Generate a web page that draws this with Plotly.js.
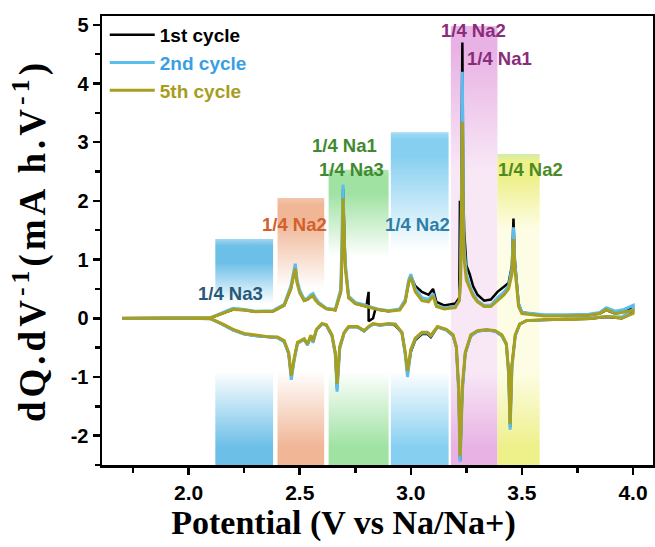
<!DOCTYPE html>
<html><head><meta charset="utf-8">
<script src="https://cdn.plot.ly/plotly-3.0.1.min.js"></script>
<style>html,body{margin:0;padding:0;background:#fff}#chart{width:655px;height:547px}
.ytitle{letter-spacing:4px}</style>
</head><body><div id="chart"></div>
<script>
// ---------- data ----------
const cycleNames = ['1st cycle', '2nd cycle', '5th cycle'];

// charge branch (positive dQ/dV), potential in V
const chargeV   = [1.70, 2.00, 2.10, 2.15, 2.20, 2.25, 2.30, 2.38, 2.43, 2.46, 2.472, 2.48, 2.488, 2.50, 2.52, 2.535, 2.55, 2.56, 2.57, 2.585, 2.62, 2.66, 2.685, 2.691, 2.695, 2.70, 2.705, 2.72, 2.75, 2.80, 2.81, 2.81, 2.83, 2.84, 2.85, 2.90, 2.95, 2.975, 2.99, 3.00, 3.01, 3.02, 3.05, 3.08, 3.10, 3.115, 3.15, 3.20, 3.218, 3.221, 3.224, 3.229, 3.232, 3.236, 3.24, 3.25, 3.265, 3.28, 3.30, 3.33, 3.36, 3.39, 3.42, 3.44, 3.455, 3.462, 3.468, 3.475, 3.485, 3.50, 3.60, 3.70, 3.80, 3.85, 3.88, 3.92, 3.96, 4.00];
const charge1st = [0, 0, 0.01, 0.08, 0.15, 0.14, 0.11, 0.12, 0.22, 0.5, 0.7, 0.88, 0.62, 0.45, 0.3, 0.32, 0.38, 0.4, 0.33, 0.25, 0.16, 0.14, 0.45, 1.2, 2.2, 1.3, 0.9, 0.35, 0.25, 0.2, 0.45, -0.05, 0.0, 0.15, 0.15, 0.12, 0.15, 0.3, 0.6, 0.72, 0.62, 0.55, 0.45, 0.4, 0.5, 0.28, 0.22, 0.25, 0.35, 2.0, 0.6, 2.8, 4.7, 2.2, 1.5, 0.9, 0.75, 0.55, 0.4, 0.3, 0.32, 0.45, 0.55, 0.6, 0.9, 1.7, 1.0, 0.7, 0.25, 0.1, 0.05, 0.04, 0.05, 0.08, 0.14, 0.08, 0.12, 0.2];
const charge2nd = [0, 0, 0.01, 0.09, 0.17, 0.15, 0.12, 0.13, 0.24, 0.55, 0.75, 0.93, 0.65, 0.48, 0.32, 0.34, 0.4, 0.42, 0.35, 0.27, 0.17, 0.15, 0.5, 1.3, 2.28, 1.35, 0.95, 0.38, 0.27, 0.22, 0.2, 0.2, 0.18, 0.17, 0.16, 0.13, 0.16, 0.32, 0.65, 0.75, 0.6, 0.5, 0.35, 0.32, 0.42, 0.22, 0.18, 0.2, 0.3, 0.5, 0.7, 2.5, 4.2, 1.9, 1.2, 0.75, 0.55, 0.42, 0.3, 0.22, 0.22, 0.35, 0.45, 0.55, 0.85, 1.55, 0.95, 0.65, 0.25, 0.1, 0.06, 0.06, 0.07, 0.1, 0.18, 0.12, 0.15, 0.22];
const charge5th = [0, 0, 0.01, 0.08, 0.15, 0.14, 0.11, 0.12, 0.22, 0.5, 0.68, 0.85, 0.6, 0.43, 0.3, 0.32, 0.36, 0.38, 0.31, 0.25, 0.16, 0.14, 0.45, 1.15, 2.05, 1.2, 0.85, 0.35, 0.25, 0.2, 0.19, 0.19, 0.17, 0.16, 0.15, 0.12, 0.14, 0.28, 0.6, 0.7, 0.55, 0.45, 0.3, 0.28, 0.38, 0.2, 0.16, 0.18, 0.3, 0.45, 0.6, 2.0, 3.35, 1.6, 1.0, 0.65, 0.5, 0.38, 0.28, 0.2, 0.2, 0.3, 0.4, 0.5, 0.75, 1.35, 0.85, 0.6, 0.2, 0.08, 0.04, 0.04, 0.05, 0.08, 0.15, 0.08, 0.1, 0.13];

// discharge branch (negative dQ/dV), from 4.0 V back to 1.7 V
const dischargeV   = [4.00, 3.95, 3.88, 3.80, 3.70, 3.60, 3.52, 3.49, 3.47, 3.455, 3.447, 3.44, 3.43, 3.41, 3.38, 3.34, 3.30, 3.27, 3.245, 3.232, 3.222, 3.215, 3.205, 3.19, 3.16, 3.12, 3.09, 3.075, 3.05, 3.02, 3.00, 2.985, 2.975, 2.96, 2.93, 2.90, 2.86, 2.83, 2.81, 2.79, 2.76, 2.72, 2.70, 2.68, 2.668, 2.66, 2.645, 2.62, 2.60, 2.575, 2.56, 2.55, 2.535, 2.52, 2.49, 2.475, 2.462, 2.45, 2.43, 2.40, 2.35, 2.30, 2.25, 2.20, 2.15, 2.10, 2.00, 1.70];
const discharge1st = [0.1, 0.0, 0.02, -0.01, -0.02, -0.02, -0.04, -0.1, -0.3, -0.8, -1.85, -0.9, -0.45, -0.3, -0.22, -0.2, -0.22, -0.3, -0.6, -1.2, -2.42, -1.2, -0.5, -0.3, -0.2, -0.15, -0.32, -0.27, -0.27, -0.37, -0.57, -0.95, -0.6, -0.25, -0.12, -0.1, -0.12, -0.1, -0.15, -0.22, -0.15, -0.15, -0.25, -0.5, -1.2, -0.6, -0.3, -0.12, -0.1, -0.2, -0.4, -0.3, -0.45, -0.36, -0.42, -0.7, -1.0, -0.6, -0.4, -0.33, -0.32, -0.3, -0.27, -0.2, -0.1, -0.01, 0, 0];
const discharge2nd = [0.15, 0.02, 0.03, 0.0, -0.01, -0.02, -0.04, -0.1, -0.3, -0.85, -1.9, -0.95, -0.45, -0.3, -0.22, -0.2, -0.22, -0.3, -0.6, -1.25, -2.45, -1.25, -0.5, -0.3, -0.2, -0.15, -0.3, -0.25, -0.25, -0.35, -0.55, -1.0, -0.62, -0.25, -0.1, -0.1, -0.12, -0.1, -0.15, -0.22, -0.15, -0.15, -0.25, -0.52, -1.25, -0.62, -0.3, -0.12, -0.1, -0.2, -0.42, -0.3, -0.46, -0.36, -0.43, -0.72, -1.05, -0.6, -0.4, -0.33, -0.32, -0.3, -0.27, -0.2, -0.1, -0.01, 0, 0];
const discharge5th = [0.08, 0.0, 0.03, -0.01, -0.02, -0.02, -0.04, -0.1, -0.28, -0.8, -1.8, -0.9, -0.43, -0.28, -0.21, -0.19, -0.21, -0.28, -0.58, -1.15, -2.35, -1.15, -0.48, -0.28, -0.19, -0.14, -0.29, -0.24, -0.24, -0.34, -0.53, -0.9, -0.58, -0.24, -0.1, -0.09, -0.11, -0.09, -0.14, -0.21, -0.14, -0.14, -0.24, -0.48, -1.12, -0.58, -0.28, -0.11, -0.09, -0.19, -0.39, -0.29, -0.44, -0.35, -0.41, -0.68, -0.98, -0.58, -0.38, -0.32, -0.31, -0.29, -0.26, -0.19, -0.09, -0.01, 0, 0];

// highlighted potential windows
const bandStart = [2.12, 2.40, 2.63, 2.91, 3.18, 3.39];
const bandEnd   = [2.38, 2.61, 2.90, 3.17, 3.39, 3.58];
const bandTop   = [1.35, 2.05, 2.53, 3.17, 4.98, 2.80];

// site labels
const labelText = ['1/4 Na3', '1/4 Na2', '1/4 Na1', '1/4 Na3', '1/4 Na2', '1/4 Na2', '1/4 Na1', '1/4 Na2'];
const labelV    = [2.19, 2.475, 2.70, 2.735, 3.03, 3.28, 3.40, 3.54];
const labelY    = [0.43, 1.60, 2.95, 2.54, 1.59, 4.90, 4.42, 2.53];

// tick labels
const xTickVals = [2.0, 2.5, 3.0, 3.5, 4.0];
const xTickText = ['2.0', '2.5', '3.0', '3.5', '4.0'];
const yTickVals = [-2, -1, 0, 1, 2, 3, 4, 5];
const yTickText = ['-2', '-1', '0', '1', '2', '3', '4', '5'];

// ---------- styles ----------
const Y_MIN = -2.5, Y_MAX = 5.15;
const lineColors = ['#000000', '#5bbcf0', '#a99f1f'];
const lineWidths = [2.5, 3, 3];
const textColors = ['#000000', '#3a9fe2', '#a89c20'];
// [main colour, top-edge colour, middle colour, y where top fades to middle]
const bandStyles = [
  ['#6cbfe7', '#a3d6f0', '#ffffff', 0.25],
  ['#f0b696', '#f3c6ad', '#ffffff', 0.5],
  ['#9fe2a2', '#aee7b0', '#ffffff', 1.05],
  ['#86cff0', '#a5dcf4', '#ffffff', 1.15],
  ['#e8b2e4', '#e9b9e6', '#f8e8f6', 2.5],
  ['#eef08a', '#cfecaa', '#fdfde6', 1.5]
];
const labelColors = ['#275a78', '#d2602a', '#3f8a2e', '#3f8a2e', '#2d7fa6', '#8a2c7c', '#8a2c7c', '#4b8a25'];
const SANS = 'Liberation Sans, Arial, sans-serif';
const SERIF = 'Liberation Serif, Times New Roman, serif';

// ---------- traces ----------
const traces = [];
bandStart.forEach((x0, i) => {
  const x1 = bandEnd[i], top = bandTop[i];
  const [c, cTop, cMid, fadeY] = bandStyles[i];
  const f = y => Math.min(1, Math.max(0, (y - Y_MIN) / (top - Y_MIN)));
  traces.push({
    type: 'scatter', mode: 'lines', x: [x0, x1, x1, x0, x0], y: [Y_MIN, Y_MIN, top, top, Y_MIN],
    fill: 'toself', line: {width: 0, color: 'rgba(0,0,0,0)'}, hoverinfo: 'skip', showlegend: false,
    fillgradient: {type: 'vertical', start: Y_MIN, stop: top, colorscale: [
      [0, c], [f(-2.2), c], [f(-0.9), cMid], [f(fadeY), cMid], [f(top - 0.4), c], [f(top - 0.12), c], [1, cTop]
    ]}
  });
});
const chargeSets = [charge1st, charge2nd, charge5th];
const dischargeSets = [discharge1st, discharge2nd, discharge5th];
cycleNames.forEach((nm, i) => {
  traces.push({
    type: 'scatter', mode: 'lines',
    x: chargeV.concat(dischargeV),
    y: chargeSets[i].concat(dischargeSets[i]),
    name: '<span style="color:' + textColors[i] + '">' + nm + '</span>',
    line: {color: lineColors[i], width: lineWidths[i]}
  });
});

const annotations = labelText.map((t, i) => ({
  x: labelV[i], y: labelY[i], xref: 'x', yref: 'y', text: '<b>' + t + '</b>', showarrow: false,
  font: {family: SANS, size: 18.5, color: labelColors[i]}
}));

const layout = {
  width: 655, height: 547,
  margin: {l: 102, r: 2, t: 16, b: 82},
  paper_bgcolor: '#ffffff', plot_bgcolor: '#ffffff',
  showlegend: true,
  legend: {x: 0.005, y: 1.0, xanchor: 'left', yanchor: 'top', bgcolor: 'rgba(0,0,0,0)',
           font: {family: SANS, size: 19, weight: 'bold'}, itemwidth: 45, tracegroupgap: 0},
  xaxis: {
    range: [1.61, 4.09], tickmode: 'array', tickvals: xTickVals, ticktext: xTickText,
    ticks: 'outside', ticklen: 7, tickwidth: 2.5, tickcolor: '#000',
    minor: {ticks: 'outside', ticklen: 5, tickwidth: 2.5, dtick: 0.25, tick0: 1.75, tickcolor: '#000', showgrid: false},
    showline: true, linewidth: 2.5, linecolor: '#000', mirror: true, showgrid: false, zeroline: false,
    tickfont: {family: SANS, size: 21, weight: 'bold', color: '#000'},
    title: {text: '<b>Potential (V vs Na/Na+)</b>&nbsp;&nbsp;&nbsp;&nbsp;&nbsp;&nbsp;&nbsp;&nbsp;', standoff: 2,
            font: {family: SERIF, size: 34, color: '#000'}}
  },
  yaxis: {
    range: [Y_MIN, Y_MAX], tickmode: 'array', tickvals: yTickVals, ticktext: yTickText,
    ticks: 'outside', ticklen: 7, tickwidth: 2.5, tickcolor: '#000',
    minor: {ticks: 'outside', ticklen: 5, tickwidth: 2.5, dtick: 0.5, tick0: 0.5, tickcolor: '#000', showgrid: false},
    showline: true, linewidth: 2.5, linecolor: '#000', mirror: true, showgrid: false, zeroline: false,
    tickfont: {family: SANS, size: 20, weight: 'bold', color: '#000'},
    title: {text: '<b>dQ.dV<sup>-1</sup>(mA h.V<sup>-1</sup>)</b>', standoff: 14,
            font: {family: SERIF, size: 37, color: '#000'}}
  },
  annotations: annotations
};

Plotly.newPlot('chart', traces, layout, {displayModeBar: false, staticPlot: true});
</script>
</body></html>
